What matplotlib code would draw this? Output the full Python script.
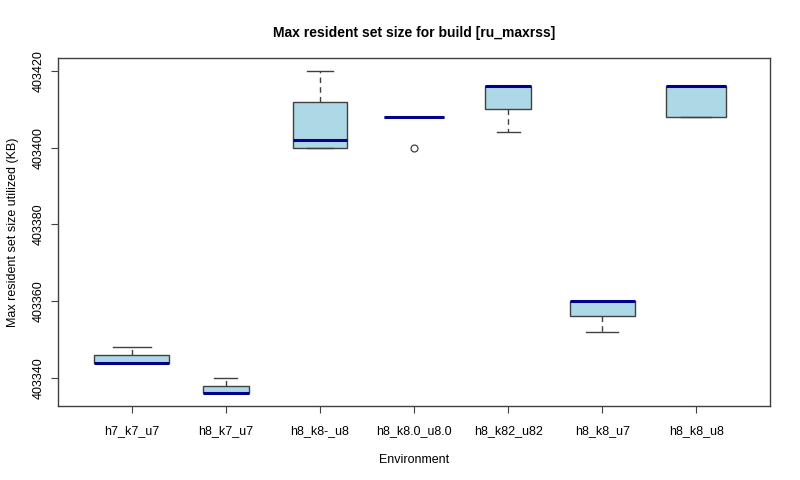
import matplotlib
matplotlib.use("Agg")
import matplotlib.pyplot as plt
import numpy as np

plt.rcParams['font.family'] = ['Liberation Sans', 'DejaVu Sans']

categories = ["h7_k7_u7", "h8_k7_u7", "h8_k8-_u8", "h8_k8.0_u8.0",
              "h8_k82_u82", "h8_k8_u7", "h8_k8_u8"]
mins    = [403344, 403336, 403400, 403408, 403404, 403352, 403408]
q1s     = [403344, 403336, 403400, 403408, 403410, 403356, 403408]
medians = [403344, 403336, 403402, 403408, 403416, 403360, 403416]
q3s     = [403346, 403338, 403412, 403408, 403416, 403360, 403416]
maxs    = [403348, 403340, 403420, 403408, 403416, 403360, 403416]
outliers = [[], [], [], [403400], [], [], []]
counts  = [8, 3, 4, 5, 3, 6, 5]
yticks = [403340, 403360, 403380, 403400, 403420]

stats = []
for i, c in enumerate(categories):
    stats.append(dict(label=c, med=medians[i], q1=q1s[i], q3=q3s[i],
                      whislo=mins[i], whishi=maxs[i], fliers=outliers[i]))

n = len(categories)
positions = np.arange(1, n + 1)
widths = [0.8 * np.sqrt(c / max(counts)) for c in counts]

fig = plt.figure(figsize=(8, 4.8), dpi=100)
ax = fig.add_axes([0.073, 0.154, 0.889, 0.725])

ax.bxp(stats, positions=positions, widths=widths, patch_artist=True,
       capwidths=[w * 0.5 for w in widths],
       boxprops=dict(facecolor='#ADD8E6', edgecolor='#404040', linewidth=1.0),
       medianprops=dict(color='#00008B', linewidth=2.2, solid_capstyle='butt'),
       whiskerprops=dict(color='#404040', linestyle=(0, (4, 3)), linewidth=1.0),
       capprops=dict(color='#404040', linewidth=1.0),
       flierprops=dict(marker='o', markerfacecolor='none', markeredgecolor='#404040',
                       markersize=5, markeredgewidth=0.9))

lo = min(min(mins), min(min(o) for o in outliers if o))
hi = max(maxs)
pad = 0.04 * (hi - lo)
ax.set_ylim(lo - pad, hi + pad)
xpad = 0.04 * n
ax.set_xlim(0.5 - xpad, n + 0.5 + xpad)

ax.set_yticks(yticks)
ax.set_yticklabels([str(t) for t in yticks], rotation=90, va='center', fontsize=9)
ax.set_xticks(positions)
ax.set_xticklabels(categories, fontsize=9)
ax.tick_params(axis='both', length=5, width=0.8, color='#404040', direction='out')
ax.tick_params(axis='x', pad=9)
ax.tick_params(axis='y', pad=5)
for s in ax.spines.values():
    s.set_color('#404040')
    s.set_linewidth(1.0)

ax.set_xlabel("Environment", fontsize=9, labelpad=12)
ax.set_ylabel("Max resident set size utilized (KB)", fontsize=9, labelpad=10)
ax.set_title("Max resident set size for build [ru_maxrss]", fontsize=10,
             fontweight='bold', pad=15)

fig.savefig("out.png", dpi=100)
